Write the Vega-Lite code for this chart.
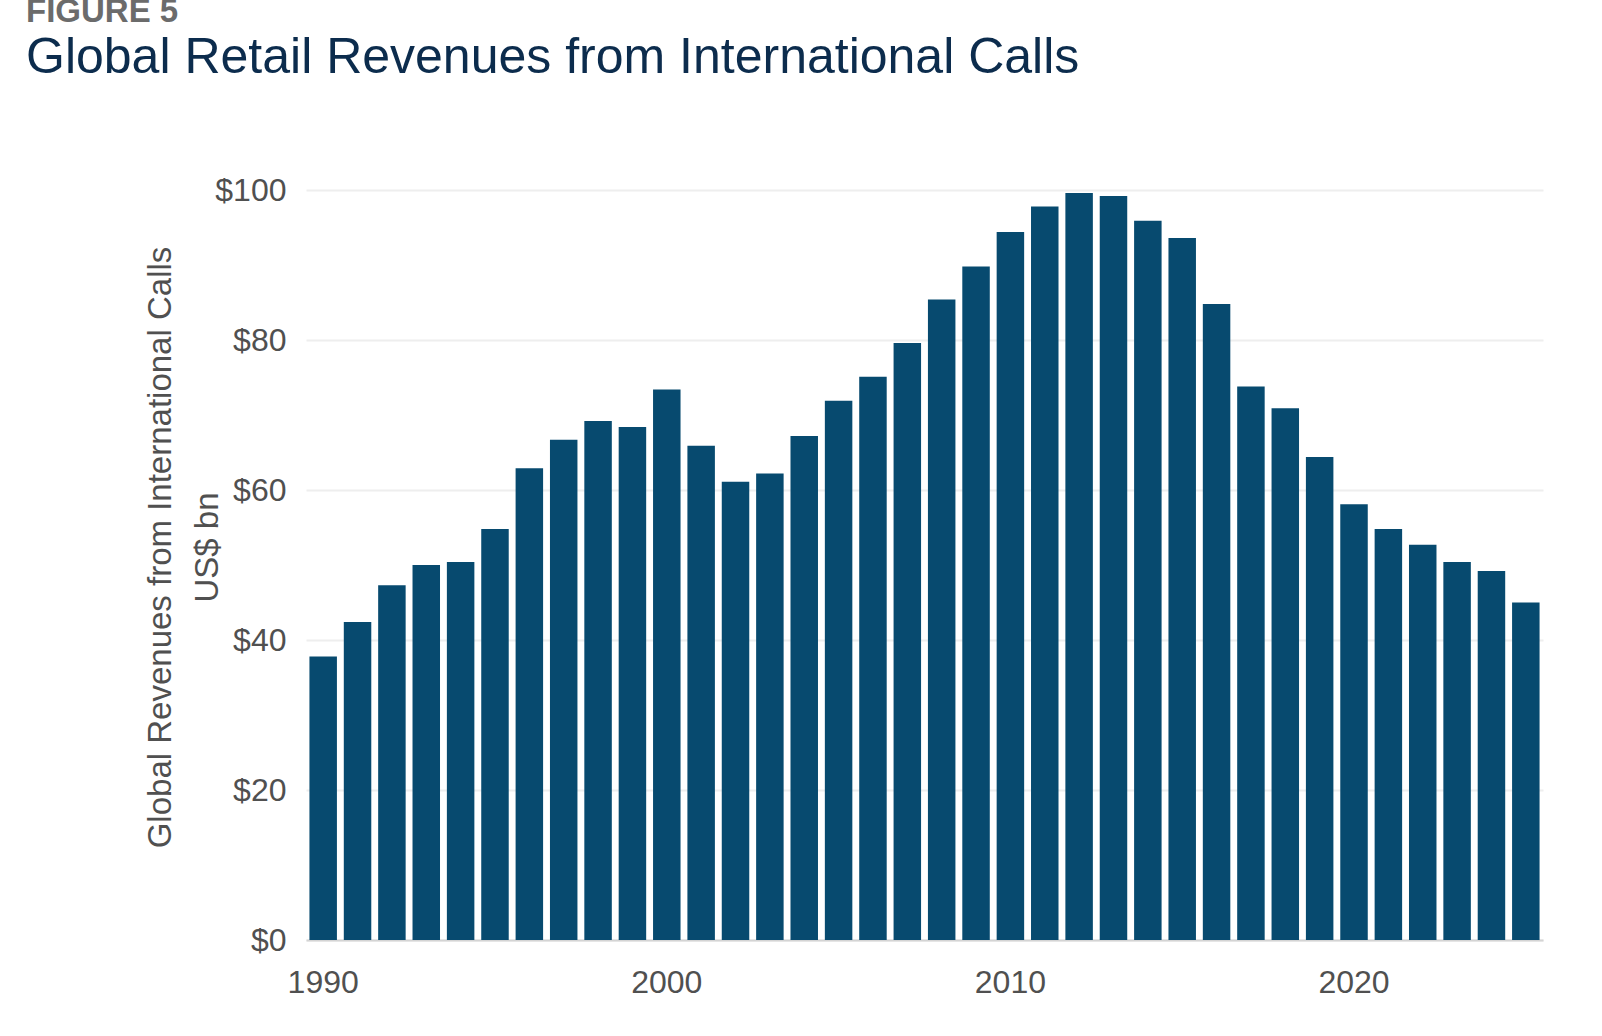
{
  "$schema": "https://vega.github.io/schema/vega-lite/v6.json",
  "width": 1237,
  "height": 750,
  "autosize": {"type": "none"},
  "padding": {"left": 306, "top": 190, "right": 59, "bottom": 96},
  "background": "white",
  "title": {
    "text": "FIGURE 5",
    "subtitle": "Global Retail Revenues from International Calls",
    "anchor": "start",
    "frame": "group",
    "dx": -280,
    "offset": 91,
    "font": "Liberation Sans",
    "fontSize": 33,
    "fontWeight": "bold",
    "color": "#6b6b6b",
    "subtitleFont": "Liberation Sans",
    "subtitleFontSize": 50,
    "subtitleColor": "#0c2c4d",
    "subtitlePadding": 4
  },
  "data": {
    "values": [
      {"year": 1990, "revenue": 37.8},
      {"year": 1991, "revenue": 42.4},
      {"year": 1992, "revenue": 47.3},
      {"year": 1993, "revenue": 50.0},
      {"year": 1994, "revenue": 50.4},
      {"year": 1995, "revenue": 54.8},
      {"year": 1996, "revenue": 62.9},
      {"year": 1997, "revenue": 66.7},
      {"year": 1998, "revenue": 69.2},
      {"year": 1999, "revenue": 68.4},
      {"year": 2000, "revenue": 73.4},
      {"year": 2001, "revenue": 65.9},
      {"year": 2002, "revenue": 61.1},
      {"year": 2003, "revenue": 62.2},
      {"year": 2004, "revenue": 67.2},
      {"year": 2005, "revenue": 71.9},
      {"year": 2006, "revenue": 75.1},
      {"year": 2007, "revenue": 79.6},
      {"year": 2008, "revenue": 85.4},
      {"year": 2009, "revenue": 89.8},
      {"year": 2010, "revenue": 94.4},
      {"year": 2011, "revenue": 97.8},
      {"year": 2012, "revenue": 99.6},
      {"year": 2013, "revenue": 99.2},
      {"year": 2014, "revenue": 95.9},
      {"year": 2015, "revenue": 93.6},
      {"year": 2016, "revenue": 84.8},
      {"year": 2017, "revenue": 73.8},
      {"year": 2018, "revenue": 70.9},
      {"year": 2019, "revenue": 64.4},
      {"year": 2020, "revenue": 58.1},
      {"year": 2021, "revenue": 54.8},
      {"year": 2022, "revenue": 52.7},
      {"year": 2023, "revenue": 50.4},
      {"year": 2024, "revenue": 49.2},
      {"year": 2025, "revenue": 45.0}
    ]
  },
  "mark": {"type": "bar", "color": "#074a6f"},
  "encoding": {
    "x": {
      "field": "year",
      "type": "ordinal",
      "scale": {"paddingInner": 0.2, "paddingOuter": 0.1},
      "axis": {
        "title": null,
        "labelAngle": 0,
        "labelExpr": "datum.value % 10 == 0 ? datum.label : ''",
        "ticks": false,
        "domain": true,
        "domainColor": "#d4d4d4",
        "domainWidth": 2,
        "labelFont": "Liberation Sans",
        "labelFontSize": 32,
        "labelColor": "#505050",
        "labelPadding": 27
      }
    },
    "y": {
      "field": "revenue",
      "type": "quantitative",
      "scale": {"domain": [0, 100], "nice": false},
      "axis": {
        "values": [0, 20, 40, 60, 80, 100],
        "labelExpr": "'$' + datum.value",
        "ticks": false,
        "domain": false,
        "grid": true,
        "gridColor": "#eeeeee",
        "gridWidth": 2,
        "labelFont": "Liberation Sans",
        "labelFontSize": 32,
        "labelColor": "#505050",
        "labelPadding": 20,
        "title": ["Global Revenues from International Calls", "US$ bn"],
        "titleFont": "Liberation Sans",
        "titleFontSize": 33,
        "titleFontWeight": "normal",
        "titleColor": "#505050",
        "titleLineHeight": 47,
        "titlePadding": -10,
        "titleY": 357
      }
    }
  },
  "config": {"view": {"stroke": null}}
}
